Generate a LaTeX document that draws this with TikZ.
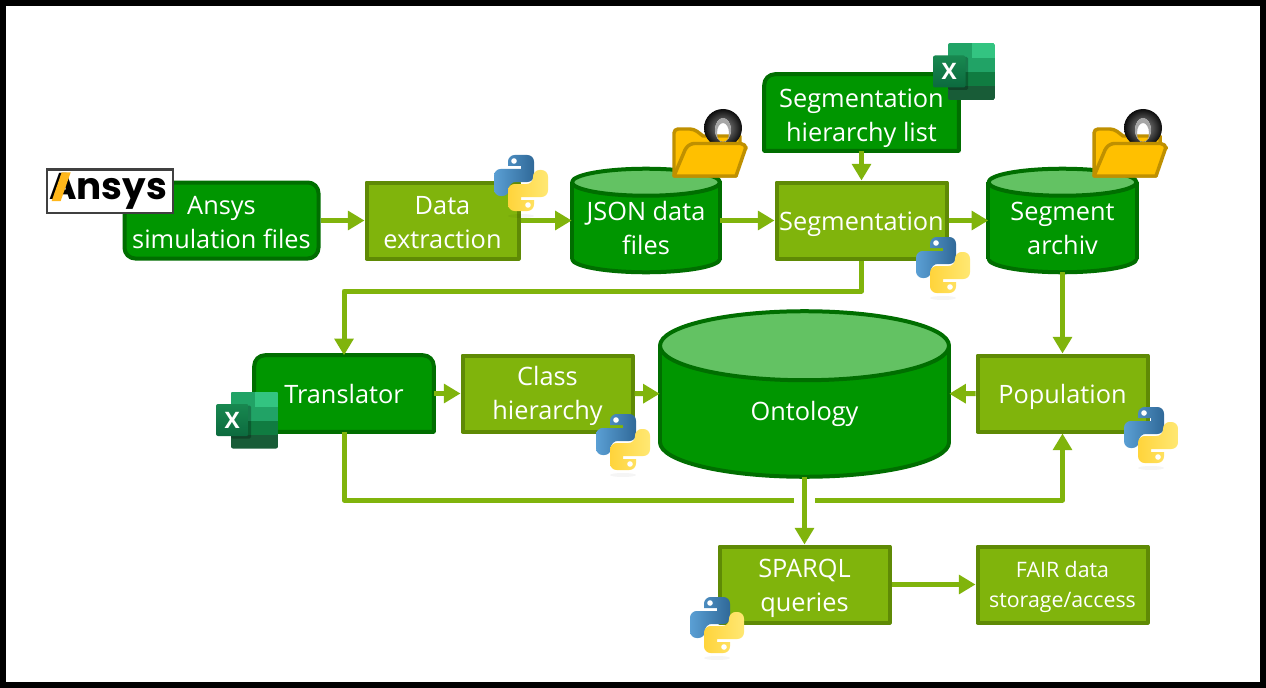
\documentclass[tikz,border=0pt]{standalone}
\usepackage{fontspec}
\setmainfont{Open Sans}
\newfontfamily\logofont{Poppins}
\usetikzlibrary{arrows.meta,calc,backgrounds}

\definecolor{darkfill}{HTML}{009600}
\definecolor{darkline}{HTML}{006E00}
\definecolor{lightfill}{HTML}{80B40C}
\definecolor{lightline}{HTML}{5F8A05}
\definecolor{topfill}{HTML}{63C263}
\definecolor{pyblueA}{HTML}{5A9FD4}
\definecolor{pyblueB}{HTML}{306998}
\definecolor{pyyellowA}{HTML}{FFE873}
\definecolor{pyyellowB}{HTML}{FFD43B}
\definecolor{folderfill}{HTML}{FFC000}
\definecolor{folderline}{HTML}{BF9000}
\definecolor{logoyellow}{HTML}{FFB71B}

\newcommand{\storebody}[3]{%
    \begin{scope}[on background layer]
        \draw [storeline, fill=darkfill] ($(#1.south)+(0,-#3)$) ellipse (#2 and #3);
        \fill [darkfill] ($(#1.north west)+(0,#3)$) rectangle ($(#1.south east)+(0,-#3)$);
        \draw [storeline] ($(#1.north west)+(0,#3)$) -- ($(#1.south west)+(0,-#3)$);
        \draw [storeline] ($(#1.north east)+(0,#3)$) -- ($(#1.south east)+(0,-#3)$);
        \draw [storeline, fill=topfill] ($(#1.north)+(0,#3)$) ellipse (#2 and #3);
    \end{scope}%
}
\newcommand{\roundtop}[1]{%
    \begin{scope}[on background layer]
        \draw [storeline, fill=darkfill]
            (#1.south west) [rounded corners=8pt] -- (#1.north west) -- (#1.north east)
            [sharp corners] -- (#1.south east) -- cycle;
    \end{scope}%
}

\tikzset{
    pxsize/.style 2 args={minimum width=#1*0.75pt, minimum height=#2*0.75pt},
    label text/.style={text=white, align=center, inner sep=0pt,
        font=\fontsize{19pt}{25.5pt}\selectfont},
    storeline/.style={draw=darkline, line width=3pt, line join=round},
    darkbox/.style={label text, draw=darkline, fill=darkfill, line width=3pt, line join=round},
    lightbox/.style={label text, draw=lightline, fill=lightfill, line width=3pt, line join=round},
    flow/.style={color=lightfill, line width=3.75pt, line join=round,
        -{Triangle[length=12.5pt, width=14pt]}},
    pythonlogo/.pic={
        \fill [black, opacity=0.04] (0,33) ellipse (13 and 2);
        \foreach \ang/\cola/\colb in {0/pyblueA/pyblueB, 180/pyyellowB/pyyellowA} {
            \begin{scope}[rotate=\ang]
                \shade [left color=\cola, right color=\colb]
                    (-13,-17) [rounded corners=5pt] -- (-13,-28) -- (13,-28) -- (13,-1)
                    -- (-12,-1) -- (-12,13) -- (-27,13) -- (-27,-14)
                    [sharp corners] -- (0,-14) -- (0,-17) -- cycle;
                \fill [white] (-7,-22) circle (2.8);
            \end{scope}
        }
    },
    excellogo/.pic={
        \begin{scope}
            \clip [rounded corners=1.5pt] (15,0) rectangle (62,57);
            \fill [fill={rgb,255:red,33;green,163;blue,102}] (15,0) rectangle (39,29);
            \fill [fill={rgb,255:red,51;green,196;blue,129}] (39,0) rectangle (62,15);
            \fill [fill={rgb,255:red,33;green,163;blue,102}] (39,15) rectangle (62,29);
            \fill [fill={rgb,255:red,16;green,124;blue,65}] (15,29) rectangle (62,43);
            \fill [fill={rgb,255:red,24;green,92;blue,55}] (15,43) rectangle (62,57);
        \end{scope}
        \fill [black, opacity=0.25, rounded corners=1pt] (15,14) rectangle (35,47);
        \shade [rounded corners=1.5pt, top color={rgb,255:red,24;green,136;blue,80},
            bottom color={rgb,255:red,12;green,106;blue,62}] (0,12.5) rectangle (32.5,44.5);
        \node [text=white, inner sep=0pt, font=\bfseries\fontsize{17pt}{17pt}\selectfont]
            (-mark) at (16.2,28.5) {X};
    },
    jsonfolder/.pic={
        \draw [draw=folderline, fill=folderfill, line width=2.6pt, line join=round]
            (2,49) [rounded corners=3pt] -- (2,2) -- (22,2) [sharp corners] -- (31,9)
            -- (68,9) -- (68,20) -- (64,49) -- cycle;
        \shade [even odd rule, inner color=gray!85, outer color=black!95]
            (51,1) circle (19) (51,3) ellipse (8 and 12);
        \fill [black!35, even odd rule] (51,3) ellipse (8 and 12) (51,6) ellipse (6 and 10);
        \draw [draw=folderline, fill=folderfill, line width=2.6pt, line join=round]
            (2,49) -- (13,23) [rounded corners=4pt] -- (17,16.5) -- (74,16.5)
            [sharp corners] -- (74,20) -- (64,49) -- cycle;
    },
}

\begin{document}
\begin{tikzpicture}[x=0.75pt, y=-0.75pt]
\useasboundingbox (0,0) rectangle (1266,688);

% frame
\begin{scope}[on background layer]
    \fill [black] (0,0) rectangle (1266,688);
    \fill [white] (6,6) rectangle (1260,682);
\end{scope}

% nodes
\node [darkbox, rounded corners=8pt, pxsize={194}{76}, text height=42.5pt] (A) at (221.5,220.5) {Ansys\\simulation files};
\node [lightbox, pxsize={152}{76}, text height=42.5pt] (B) at (442.5,220.5) {Data\\extraction};
\node [label text, pxsize={148}{103}, text height=51.5pt] (C) at (646,220.5) {JSON data\\files};
\node [label text, pxsize={194}{76}, text height=48pt] (D) at (861.5,112.5) {Segmentation\\hierarchy list};
\node [lightbox, pxsize={170}{76}, text height=20pt] (E) at (861.5,220.5) {Segmentation};
\node [label text, pxsize={148}{103}, text height=51.5pt] (F) at (1062.5,220.5) {Segment\\archiv};
\node [label text, pxsize={179}{76}, text height=15pt] (G) at (344,393.5) {Translator};
\node [lightbox, pxsize={170}{76}, text height=44pt] (H) at (547.5,393.5) {Class\\hierarchy};
\node [label text, pxsize={289}{165}, text height=44pt] (I) at (804.5,394) {Ontology};
\node [lightbox, pxsize={170}{76}, text height=20pt] (J) at (1062.5,393.5) {Population};
\node [lightbox, pxsize={170}{76}, text height=45.5pt] (K) at (804.5,584.5) {SPARQL\\queries};
\node [lightbox, pxsize={170}{76}, font=\fontsize{16pt}{22.5pt}\selectfont, text height=39pt] (L) at (1062.5,584.5) {FAIR data\\storage/access};

\storebody{C}{74}{13.5}
\storebody{F}{74}{13.5}
\storebody{I}{144.5}{34.5}
\roundtop{D}
\roundtop{G}

% bends
\coordinate (bendtop) at (600,291);
\coordinate (gapleft) at (794,500);
\coordinate (gapright) at (815,500);

\draw [flow]
    (A) edge (B) (B) edge (C) (C) edge (E) (E) edge (F)
    (D) edge (E)
    (F) edge (J)
    (G) edge (H) (H) edge (I) (J) edge (I)
    (I) edge (K)
    (K) edge (L)
    ;
\draw [flow] (E) |- (bendtop) -| (G);
\draw [flow, -] (G) |- (gapleft);
\draw [flow] (gapright) -| (J);

% logos
\node [draw=black!75, fill=white, line width=1.5pt, inner sep=0pt, pxsize={126}{43},
    font=\logofont\bfseries\fontsize{28pt}{28pt}\selectfont] (M) at (109.5,191) {\hspace*{-2pt}Ansys};
\fill [logoyellow] (51.7,201) -- (61.7,172.3) -- (70.7,172.3) -- (60.7,201) -- cycle;

\pic at (521,183) {pythonlogo};
\pic at (943,265) {pythonlogo};
\pic at (623,442) {pythonlogo};
\pic at (1151,435) {pythonlogo};
\pic at (717,625) {pythonlogo};

\pic (N) at (933,43) {excellogo};
\pic (O) at (216,391.5) {excellogo};

\pic at (672,127) {jsonfolder};
\pic at (1092,127) {jsonfolder};

\end{tikzpicture}
\end{document}
